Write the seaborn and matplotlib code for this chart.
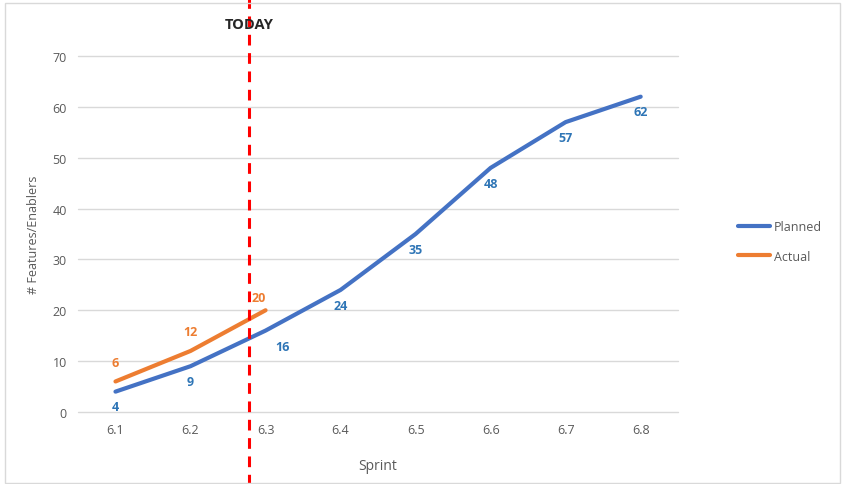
import pandas as pd
import matplotlib.pyplot as plt
import seaborn as sns
from matplotlib.patches import Rectangle
from matplotlib.lines import Line2D

sprints = ["6.1", "6.2", "6.3", "6.4", "6.5", "6.6", "6.7", "6.8"]
planned = [4, 9, 16, 24, 35, 48, 57, 62]
actual = [6, 12, 20]
today_pos = 1.78  # between 6.2 and 6.3

blue = "#4472C4"
orange = "#ED7D31"
label_blue = "#2E75B6"
grey = "#595959"

sns.set_theme(style="white")
plt.rcParams['font.family'] = ['Open Sans', 'DejaVu Sans']

df = pd.concat([
    pd.DataFrame({"x": range(len(planned)), "value": planned, "series": "Planned"}),
    pd.DataFrame({"x": range(len(actual)), "value": actual, "series": "Actual"}),
])

fig = plt.figure(figsize=(8.43, 4.85), dpi=100)
ax = fig.add_axes([0.0925, 0.1485, 0.712, 0.734])

sns.lineplot(data=df, x="x", y="value", hue="series",
             palette={"Planned": blue, "Actual": orange},
             hue_order=["Planned", "Actual"], linewidth=3,
             solid_capstyle="round", ax=ax, legend=False)

ax.set_xlim(-0.5, len(sprints) - 0.5)
ax.set_ylim(0, 70)
ax.set_yticks(range(0, 71, 10))
ax.set_xticks(range(len(sprints)))
ax.set_xticklabels(sprints)
ax.yaxis.grid(True, color="#D9D9D9", linewidth=1)
for gl in ax.get_ygridlines():
    gl.set_clip_on(False)
ax.xaxis.grid(False)
for s in ax.spines.values():
    s.set_visible(False)
ax.tick_params(axis="both", length=0, colors=grey, labelsize=9, pad=8)
ax.set_xlabel("Sprint", color=grey, fontsize=10)
ax.set_ylabel("# Features/Enablers", color=grey, fontsize=9)
ax.xaxis.set_label_coords(0.5, -0.13)
ax.yaxis.set_label_coords(-0.063, 0.5)

# data labels
for i, v in enumerate(planned):
    dx, dy = (0, -11)
    if i == 2:
        dx, dy = (12, -11.5)
    ax.annotate(str(v), (i, v), xytext=(dx, dy), textcoords="offset points",
                ha="center", va="center", color=label_blue,
                fontsize=9, fontweight="bold")
for i, v in enumerate(actual):
    dx, dy = (0, 14)
    if i == 2:
        dx, dy = (-5, 9.5)
    ax.annotate(str(v), (i, v), xytext=(dx, dy), textcoords="offset points",
                ha="center", va="center", color=orange,
                fontsize=9, fontweight="bold")

# today marker
ax.axvline(today_pos, ymin=-0.21, ymax=1.17, clip_on=False, color="#FF0000",
           linestyle=(0, (3.5, 2.5)), linewidth=2.2, zorder=5)
ax.text(today_pos, 1.09, "TODAY", transform=ax.get_xaxis_transform(),
        ha="center", va="center", fontsize=10.5, fontweight="bold",
        color="#262626", zorder=6)

# legend
handles = [Line2D([], [], color=blue, lw=3), Line2D([], [], color=orange, lw=3)]
fig.legend(handles, ["Planned", "Actual"], loc="center left",
           bbox_to_anchor=(0.862, 0.5), frameon=False, fontsize=9,
           labelcolor=grey, handlelength=2.6, handletextpad=0.3,
           labelspacing=1.3)

fig.patches.append(Rectangle((0.006, 0.002), 0.99, 0.99, transform=fig.transFigure,
                             fill=False, edgecolor="#D9D9D9", linewidth=1))

plt.savefig("out.png", dpi=100)
plt.close()
